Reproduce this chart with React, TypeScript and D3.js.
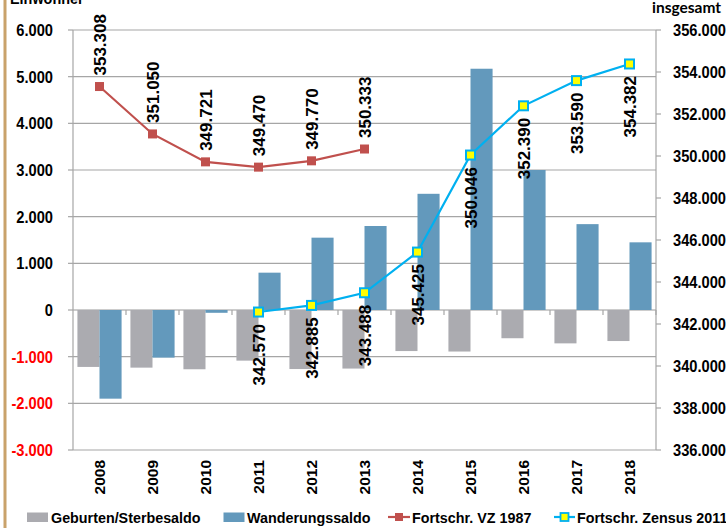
import React from 'react';
import * as d3 from 'd3';

const years = ['2008', '2009', '2010', '2011', '2012', '2013', '2014', '2015', '2016', '2017', '2018'];
const geburten = [-1220, -1235, -1270, -1085, -1265, -1255, -880, -890, -605, -715, -665];
const wanderung = [-1900, -1020, -60, 800, 1550, 1800, 2490, 5170, 3000, 1840, 1450];
const vz1987: (number | null)[] = [353308, 351050, 349721, 349470, 349770, 350333, null, null, null, null, null];
const zensus2011: (number | null)[] = [null, null, null, 342570, 342885, 343488, 345425, 350046, 352390, 353590, 354382];
const leftTicks = [-3000, -2000, -1000, 0, 1000, 2000, 3000, 4000, 5000, 6000];
const rightTicks = [336000, 338000, 340000, 342000, 344000, 346000, 348000, 350000, 352000, 354000, 356000];
const legendLabels = ['Geburten/Sterbesaldo', 'Wanderungssaldo', 'Fortschr. VZ 1987', 'Fortschr. Zensus 2011'];

const W = 726, H = 528;
const L = 73, R = 656, T = 30, B = 450;
const arial = "'Liberation Sans', Arial, sans-serif";
const GRAY = '#ABABB0';
const BLUE = '#6399BC';
const RED = '#C0504D';
const CYAN = '#00B0F0';
const GRID = '#A6A6A6';

const de = d3.formatLocale({ decimal: ',', thousands: '.', grouping: [3], currency: ['', '€'], minus: '-' });
const fmt = de.format(',d');

function NText(props: { x: number; y: number; anchor?: string; sx?: number; size?: number; fill?: string; dy?: string; children: React.ReactNode }) {
  const { x, y, anchor = 'start', sx = 0.9, size = 16, fill = '#000', dy, children } = props;
  return (
    <g transform={`translate(${x},${y}) scale(${sx},1)`}>
      <text x={0} y={0} dy={dy} textAnchor={anchor} fontFamily={arial} fontWeight="bold" fontSize={size} fill={fill}>{children}</text>
    </g>
  );
}

export default function App() {
  const x = d3.scaleBand<string>().domain(years).range([L, R]).padding(0);
  const bw = x.bandwidth();
  const sub = d3.scaleBand<string>().domain(['g', 'w']).range([0, bw]).paddingInner(0).paddingOuter(0.2);
  const yL = d3.scaleLinear().domain([-3000, 6000]).range([B, T]);
  const yR = d3.scaleLinear().domain([336000, 356000]).range([B, T]);
  const cx = (i: number) => (x(years[i]) as number) + bw / 2;

  const line = d3.line<[number, number | null]>()
    .defined(d => d[1] !== null)
    .x(d => cx(d[0]))
    .y(d => yR(d[1] as number));
  const vzPts = vz1987.map((v, i) => [i, v] as [number, number | null]);
  const zPts = zensus2011.map((v, i) => [i, v] as [number, number | null]);

  return (
    <svg width={W} height={H} style={{ position: 'absolute', left: 0, top: 0, background: '#fff' }}>
      <rect x={3.5} y={0} width={3} height={H} fill="#C9A26B" />
      <NText x={10} y={4} size={16}>Einwohner</NText>
      <text x={652} y={13} fontFamily="Lato, sans-serif" fontWeight="bold" fontSize={15.5} fill="#000">insgesamt</text>

      {/* gridlines */}
      {leftTicks.map(t => (
        <line key={'g' + t} x1={L} x2={R} y1={yL(t)} y2={yL(t)} stroke={t === 0 ? '#999' : GRID} strokeWidth={1.2} />
      ))}
      {/* left axis */}
      <line x1={L} x2={L} y1={T} y2={B} stroke={GRID} strokeWidth={1.2} />
      {leftTicks.map(t => (
        <g key={'lt' + t}>
          <line x1={L - 5} x2={L} y1={yL(t)} y2={yL(t)} stroke={GRID} strokeWidth={1.2} />
          <NText x={53} y={yL(t)} dy="0.36em" anchor="end" size={16.3} fill={t < 0 ? '#FF0000' : '#000'}>{fmt(t)}</NText>
        </g>
      ))}
      {/* right axis */}
      <line x1={R} x2={R} y1={T} y2={B} stroke={GRID} strokeWidth={1.2} />
      {rightTicks.map(t => (
        <g key={'rt' + t}>
          <line x1={R} x2={R + 5} y1={yR(t)} y2={yR(t)} stroke={GRID} strokeWidth={1.2} />
          <NText x={673} y={yR(t)} dy="0.36em" size={16.3}>{fmt(t)}</NText>
        </g>
      ))}
      {/* category ticks at zero line */}
      {years.map(yv => (
        <line key={'ct' + yv} x1={(x(yv) as number) + bw} x2={(x(yv) as number) + bw} y1={yL(0)} y2={yL(0) + 5} stroke={GRID} strokeWidth={1.2} />
      ))}
      {/* bars */}
      {years.map((yv, i) => (
        <g key={'b' + yv}>
          <rect x={(x(yv) as number) + (sub('g') as number)} width={sub.bandwidth()}
            y={Math.min(yL(0), yL(geburten[i]))} height={Math.abs(yL(geburten[i]) - yL(0))} fill={GRAY} />
          <rect x={(x(yv) as number) + (sub('w') as number)} width={sub.bandwidth()}
            y={Math.min(yL(0), yL(wanderung[i]))} height={Math.abs(yL(wanderung[i]) - yL(0))} fill={BLUE} />
        </g>
      ))}
      {/* year labels */}
      {years.map((yv, i) => (
        <text key={'yl' + yv} transform={`translate(${cx(i)},${460}) rotate(-90)`} dy="0.36em" textAnchor="end"
          fontFamily={arial} fontWeight="bold" fontSize={15.5} fill="#000">{yv}</text>
      ))}
      {/* lines */}
      <path d={line(vzPts) || ''} fill="none" stroke={RED} strokeWidth={2.2} />
      <path d={line(zPts) || ''} fill="none" stroke={CYAN} strokeWidth={2.2} />
      {vzPts.filter(d => d[1] !== null).map(d => (
        <g key={'vz' + d[0]}>
          <rect x={cx(d[0]) - 4.5} y={yR(d[1] as number) - 4.5} width={9} height={9} fill={RED} />
          <text transform={`translate(${cx(d[0])},${yR(d[1] as number) - 11}) rotate(-90)`} dy="0.36em"
            fontFamily={arial} fontWeight="bold" fontSize={17} fill="#000">{fmt(d[1] as number)}</text>
        </g>
      ))}
      {zPts.filter(d => d[1] !== null).map(d => (
        <g key={'z' + d[0]}>
          <rect x={cx(d[0]) - 4.5} y={yR(d[1] as number) - 4.5} width={9} height={9} fill="#FFFF00" stroke={CYAN} strokeWidth={2} />
          <text transform={`translate(${cx(d[0])},${yR(d[1] as number) + 12}) rotate(-90)`} dy="0.36em" textAnchor="end"
            fontFamily={arial} fontWeight="bold" fontSize={17} fill="#000">{fmt(d[1] as number)}</text>
        </g>
      ))}
      {/* legend */}
      <rect x={27} y={512.5} width={21} height={9.5} fill={GRAY} />
      <NText x={51} y={523} size={14.7} sx={0.975}>{legendLabels[0]}</NText>
      <rect x={223.5} y={512.5} width={21} height={9.5} fill={BLUE} />
      <NText x={247} y={523} size={14.7} sx={0.975}>{legendLabels[1]}</NText>
      <line x1={388} x2={410} y1={517} y2={517} stroke={RED} strokeWidth={2.2} />
      <rect x={395} y={513} width={8} height={8} fill={RED} />
      <NText x={412} y={523} size={14.7} sx={0.975}>{legendLabels[2]}</NText>
      <line x1={554} x2={575} y1={517} y2={517} stroke={CYAN} strokeWidth={2.2} />
      <rect x={560.5} y={513} width={8} height={8} fill="#FFFF00" stroke={CYAN} strokeWidth={1.8} />
      <NText x={577} y={523} size={14.7} sx={0.975}>{legendLabels[3]}</NText>
    </svg>
  );
}
